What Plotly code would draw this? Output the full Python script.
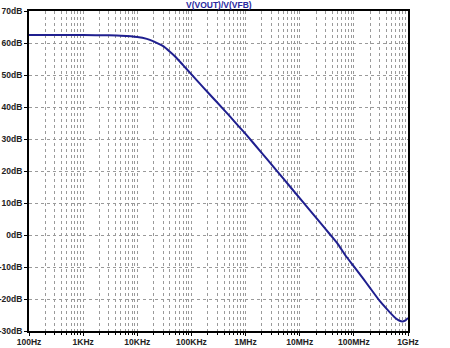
import plotly.graph_objects as go

# Frequency (Hz) and gain (dB)
freq_hz = [100, 1e3, 3e3, 5e3, 1e4, 1.5e4, 2e4, 3e4, 4e4, 5e4, 7e4, 1e5, 1.5e5, 2e5,
           3e5, 5e5, 7e5, 1e6, 2e6, 3e6, 5e6, 1e7, 2e7, 3.7e7, 5e7, 7e7, 1e8, 1.5e8,
           2e8, 3e8, 4e8, 5e8, 6e8, 7e8, 8e8, 9e8, 1e9]
gain_db = [62.5, 62.5, 62.4, 62.3, 61.9, 61.3, 60.5, 59.0, 57.3, 55.8, 53.1, 50.2, 46.9, 44.6,
           41.4, 37.3, 34.5, 31.6, 25.6, 22.1, 17.6, 11.5, 5.4, 0.0, -2.7, -6.4, -9.8, -13.7,
           -16.6, -20.6, -23.0, -24.8, -26.1, -26.8, -27.0, -26.7, -25.9]

x_tick_vals = [1e2, 1e3, 1e4, 1e5, 1e6, 1e7, 1e8, 1e9]
x_tick_text = ["100Hz", "1KHz", "10KHz", "100KHz", "1MHz", "10MHz", "100MHz", "1GHz"]
y_tick_vals = [70, 60, 50, 40, 30, 20, 10, 0, -10, -20, -30]
y_tick_text = ["70dB", "60dB", "50dB", "40dB", "30dB", "20dB", "10dB", "0dB", "-10dB", "-20dB", "-30dB"]
title_text = "V(VOUT)/V(VFB)"

line_col = "#1f1f8f"
grid_col = "#9a9a9a"

fig = go.Figure()
fig.add_trace(go.Scatter(x=freq_hz, y=gain_db, mode="lines",
                         line=dict(color=line_col, width=2, shape="spline", smoothing=0.5),
                         showlegend=False, hoverinfo="skip"))

tickfont = dict(family="Liberation Sans, Arial, sans-serif", size=8.5, color="#222222", weight="bold")

fig.update_layout(
    width=450, height=348,
    margin=dict(l=29, r=42, t=11, b=17, autoexpand=False),
    paper_bgcolor="white", plot_bgcolor="white",
    xaxis=dict(type="log", range=[2, 9], tickvals=x_tick_vals, ticktext=x_tick_text,
               tickfont=tickfont, ticks="outside", ticklen=3, tickwidth=1, tickcolor="black",
               showgrid=True, gridcolor=grid_col, griddash="dot", gridwidth=1,
               showline=True, linecolor="black", linewidth=2, mirror=True,
               minor=dict(dtick="D1", ticks="outside", ticklen=2, tickcolor="black",
                          showgrid=True, gridcolor=grid_col, griddash="dot", gridwidth=1),
               zeroline=False, ticklabelstandoff=-1, automargin=False),
    yaxis=dict(range=[-30, 70], tickvals=y_tick_vals, ticktext=y_tick_text,
               tickfont=tickfont, ticks="outside", ticklen=3, tickwidth=1, tickcolor="black",
               showgrid=True, gridcolor=grid_col, griddash="dot", gridwidth=1,
               showline=True, linecolor="black", linewidth=2, mirror=True,
               zeroline=False, ticklabelstandoff=0, automargin=False),
    annotations=[dict(text=title_text, xref="paper", yref="paper", x=0.5, y=1.0,
                      xanchor="center", yanchor="bottom", showarrow=False, yshift=-1,
                      font=dict(family="Liberation Sans, Arial, sans-serif", size=8.5,
                                color="#2a2aa0", weight="bold"))],
)

fig.write_html("out.html")
